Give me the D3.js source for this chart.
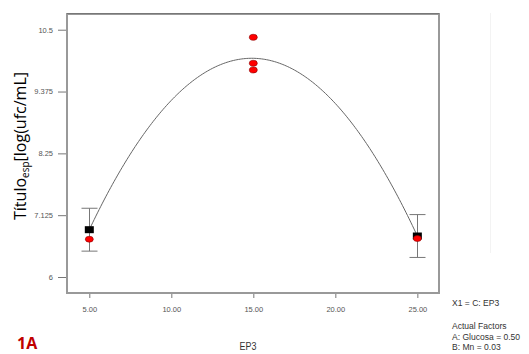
<!DOCTYPE html>
<html>
<head>
<meta charset="utf-8">
<script src="https://cdn.jsdelivr.net/npm/d3@7"></script>
<style>
  html, body { margin: 0; padding: 0; background: #fff; }
  svg { display: block; }
</style>
</head>
<body>
<svg id="chart" width="529" height="354"></svg>
<script>
// EP3 levels and the observed responses at each
const ep3Levels = [5, 15, 25];
const obsX = [5, 15, 15, 15, 25];
const obsY = [6.688, 10.362, 9.889, 9.767, 6.70];

// model predictions (black squares) and LSD half-widths
const predX = [5, 15, 25];
const predY = [6.861, 9.98, 6.746];
const barX = [5, 25];
const barHalf = [0.39, 0.39];

// tick labels
const xTicks = [5, 10, 15, 20, 25];
const yTicks = [6, 7.125, 8.25, 9.375, 10.5];

const legendLines = ["X1 = C: EP3", "", "Actual Factors", "A: Glucosa = 0.50", "B: Mn = 0.03"];

const svg = d3.select("#chart");
const L = 67, R = 439, T = 14, B = 293;

const x = d3.scaleLinear().domain([3.64, 26.32]).range([L, R]);
const y = d3.scaleLinear().domain([5.709, 10.786]).range([B, T]);

const sansFont = "'Liberation Sans', Arial, sans-serif";

// condensed-looking label: horizontally squeezed text
function narrowText(px, py, s, size, sx, anchor) {
  return svg.append("text")
    .attr("transform", `translate(${px},${py}) scale(${sx},1)`)
    .attr("text-anchor", anchor || "start")
    .attr("font-family", sansFont).attr("font-size", size).attr("fill", "#333").text(s);
}

// faint rule at the right
svg.append("line").attr("x1", 490.5).attr("x2", 490.5).attr("y1", 13).attr("y2", 253)
  .attr("stroke", "#f3f3f3").attr("stroke-width", 1);

// axes
const yAxis = d3.axisLeft(y).tickValues(yTicks).tickSize(9).tickPadding(5)
  .tickFormat(d => String(d));
const gy = svg.append("g").attr("transform", `translate(${L},0)`).call(yAxis);
gy.select(".domain").remove();
gy.selectAll("line").attr("stroke", "#777");
gy.selectAll("text").attr("font-family", sansFont).attr("font-size", 7.5).attr("fill", "#555");

const xAxis = d3.axisBottom(x).tickValues(xTicks).tickSize(5).tickPadding(9)
  .tickFormat(d3.format(".2f"));
const gx = svg.append("g").attr("transform", `translate(0,${B})`).call(xAxis);
gx.select(".domain").remove();
gx.selectAll("line").attr("stroke", "#777");
gx.selectAll("text").attr("font-family", sansFont).attr("font-size", 7.5).attr("fill", "#555");

// frame
svg.append("rect").attr("x", L).attr("y", T).attr("width", R - L).attr("height", B - T)
  .attr("fill", "none").attr("stroke", "#999").attr("stroke-width", 2);
svg.append("line").attr("x1", L).attr("x2", R).attr("y1", T - 0.5).attr("y2", T - 0.5)
  .attr("stroke", "#777").attr("stroke-width", 1);

// quadratic response curve through the three predictions
const [x0, x1, x2] = predX, [y0, y1, y2] = predY;
function quad(t) {
  return y0 * (t - x1) * (t - x2) / ((x0 - x1) * (x0 - x2))
       + y1 * (t - x0) * (t - x2) / ((x1 - x0) * (x1 - x2))
       + y2 * (t - x0) * (t - x1) / ((x2 - x0) * (x2 - x1));
}
const curvePts = d3.range(x0, x2 + 0.001, 0.1).map(t => [t, quad(t)]);
svg.append("path").datum(curvePts)
  .attr("d", d3.line().x(d => x(d[0])).y(d => y(d[1])))
  .attr("fill", "none").attr("stroke", "#666").attr("stroke-width", 1);

// LSD error bars
barX.forEach((bx, i) => {
  const py = predY[predX.indexOf(bx)];
  const g = svg.append("g").attr("stroke", "#777").attr("stroke-width", 1);
  const cx = Math.round(x(bx)) + 0.5;
  g.append("line").attr("x1", cx).attr("x2", cx).attr("y1", y(py + barHalf[i])).attr("y2", y(py - barHalf[i]));
  g.append("line").attr("x1", cx - 8).attr("x2", cx + 8).attr("y1", y(py + barHalf[i])).attr("y2", y(py + barHalf[i]));
  g.append("line").attr("x1", cx - 8).attr("x2", cx + 8).attr("y1", y(py - barHalf[i])).attr("y2", y(py - barHalf[i]));
});

// predicted means at the bar positions
barX.forEach(bx => {
  const py = predY[predX.indexOf(bx)];
  svg.append("rect").attr("x", x(bx) - 4.5).attr("y", y(py) - 3.5)
    .attr("width", 9).attr("height", 7).attr("fill", "#000");
});

// observed runs
svg.selectAll("ellipse.obs").data(obsX.map((d, i) => [d, obsY[i]])).enter()
  .append("ellipse").attr("class", "obs")
  .attr("cx", d => x(d[0])).attr("cy", d => y(d[1]))
  .attr("rx", 4).attr("ry", 3)
  .attr("fill", "#ff0000").attr("stroke", "#8a0000").attr("stroke-width", 0.6);

// axis titles
const yt = svg.append("text")
  .attr("transform", "translate(26,146) rotate(-90)")
  .attr("text-anchor", "middle")
  .attr("font-family", "'Open Sans', 'Noto Sans', sans-serif")
  .attr("font-size", 16).attr("fill", "#000");
yt.append("tspan").text("Título");
yt.append("tspan").attr("font-size", 10).attr("dy", 3).text("esp");
yt.append("tspan").attr("dy", -3).text("[log(ufc/mL]");

narrowText(248, 349.5, "EP3", 10.5, 0.85, "middle");

// factor notes
const baselines = [305.5, 318, 329.4, 339.8, 350.2];
legendLines.forEach((s, i) => {
  if (!s) return;
  narrowText(452, baselines[i], s, 9, 0.95);
});

// panel tag
svg.append("text").attr("x", 17).attr("y", 349)
  .attr("font-family", "'Open Sans', 'Noto Sans', sans-serif").attr("font-weight", "bold")
  .attr("font-size", 16).attr("fill", "#c00000").text("1A");
</script>
</body>
</html>
